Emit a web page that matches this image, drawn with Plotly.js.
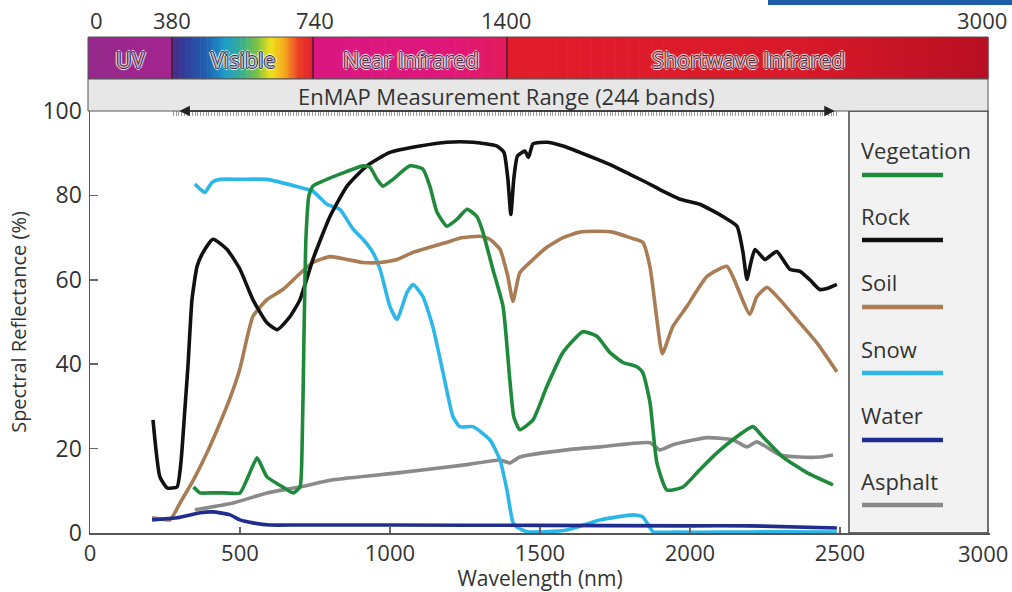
<!DOCTYPE html>
<html><head><meta charset="utf-8">
<script src="https://cdn.plot.ly/plotly-3.0.1.min.js"></script>
<style>html,body{margin:0;padding:0;background:#fff}</style>
</head><body><div id="chart" style="width:1012px;height:592px"></div>
<script>
// ---------- DATA ----------
const seriesNames = ["Vegetation", "Rock", "Soil", "Snow", "Water", "Asphalt"];

const vegetationX = [345, 367, 400, 450, 500, 527, 557, 590, 643, 677, 700, 707, 713, 720, 730, 743, 767, 857, 910, 933, 957, 977, 1010, 1067, 1110, 1133, 1157, 1190, 1223, 1257, 1290, 1310, 1343, 1377, 1400, 1413, 1433, 1477, 1523, 1577, 1643, 1690, 1733, 1777, 1823, 1843, 1867, 1890, 1923, 1977, 2033, 2090, 2143, 2210, 2243, 2310, 2390, 2477];
const vegetationY = [10.9, 9.5, 9.5, 9.5, 9.5, 13.3, 17.8, 13.3, 10.9, 9.5, 10.9, 20, 45, 70, 80, 82.2, 83.1, 85.7, 87, 86.7, 83.8, 82.2, 83.8, 87, 86.2, 82.2, 76, 72.7, 74.3, 76.7, 75, 71.3, 62.5, 53.7, 36, 27.5, 24.5, 26.8, 34.7, 42.8, 47.7, 46.6, 42.8, 40.4, 39.4, 38, 30.9, 16.6, 10.2, 10.9, 15, 19, 22.1, 25.2, 22.8, 18, 14.3, 11.4];

const rockX = [210, 233, 257, 290, 303, 315, 327, 340, 357, 377, 410, 457, 500, 543, 590, 625, 667, 700, 743, 800, 857, 923, 1000, 1100, 1190, 1277, 1357, 1380, 1393, 1403, 1413, 1425, 1450, 1462, 1477, 1523, 1577, 1633, 1690, 1743, 1800, 1857, 1910, 1967, 2033, 2110, 2157, 2177, 2190, 2203, 2217, 2250, 2270, 2290, 2333, 2367, 2400, 2433, 2460, 2490];
const rockY = [26.8, 13.3, 10.7, 10.9, 16.6, 28, 40, 55.3, 63.2, 66.5, 69.6, 67.2, 62.5, 55.3, 49.8, 48.2, 51.3, 55.3, 64.8, 75, 82.2, 87, 90.2, 91.7, 92.6, 92.6, 91.7, 90.2, 84, 75.5, 84, 89.3, 90.5, 89, 92.2, 92.6, 91.7, 90.2, 88.6, 87, 85, 83, 81, 79.1, 77.9, 75, 72.7, 66.5, 60.1, 64, 67.2, 64.8, 65.8, 66.7, 62.5, 62, 60, 57.7, 58, 58.9];

const soilX = [207, 240, 267, 300, 345, 390, 433, 467, 500, 543, 590, 643, 700, 743, 800, 857, 910, 967, 1023, 1077, 1133, 1190, 1243, 1300, 1333, 1367, 1393, 1410, 1433, 1477, 1523, 1577, 1633, 1690, 1743, 1800, 1843, 1867, 1890, 1908, 1943, 1990, 2057, 2123, 2143, 2200, 2223, 2257, 2300, 2357, 2423, 2490];
const soilY = [3.6, 3.3, 3.1, 7.1, 12.6, 19, 26, 32, 39, 51.3, 55.3, 57.7, 61.5, 64.1, 65.5, 64.8, 64.1, 64.1, 64.8, 66.5, 67.7, 68.9, 70, 70.3, 69.6, 67.2, 60.8, 54.9, 61.7, 64.8, 67.7, 70, 71.3, 71.5, 71.3, 70, 68.9, 63, 50.6, 42.5, 48.9, 53.7, 60.8, 63.2, 60.8, 51.8, 56, 58.2, 55.3, 50.6, 45.1, 38.2];

const snowX = [350, 367, 383, 407, 433, 500, 590, 700, 743, 790, 833, 877, 910, 943, 967, 1000, 1023, 1057, 1077, 1110, 1143, 1177, 1210, 1233, 1277, 1333, 1367, 1390, 1410, 1423, 1457, 1520, 1590, 1700, 1810, 1843, 1865, 1877, 1950, 2100, 2300, 2490];
const snowY = [82.7, 81.5, 80.7, 83.1, 83.8, 83.8, 83.8, 81.9, 81, 77.9, 76.7, 72, 69.6, 66.5, 62.5, 53.7, 50.6, 57, 58.9, 56, 48.9, 38, 27.6, 25.2, 25.2, 22.1, 17.3, 10.2, 2.5, 1.4, 0.3, 0.3, 0.7, 3.1, 4.3, 3.8, 1.5, 0.3, 0.2, 0.2, 0.3, 0.2];

const waterX = [207, 290, 367, 410, 467, 500, 543, 600, 700, 1000, 1500, 2000, 2200, 2490];
const waterY = [3.1, 3.6, 4.8, 5.0, 4.3, 3.1, 2.4, 1.9, 1.9, 1.9, 1.8, 1.7, 1.7, 1.2];

const asphaltX = [350, 477, 590, 700, 810, 1033, 1257, 1367, 1400, 1433, 1590, 1700, 1867, 1900, 1943, 2057, 2143, 2190, 2223, 2300, 2367, 2433, 2477];
const asphaltY = [5.5, 7.1, 9.5, 10.9, 12.6, 14.3, 16.2, 17.3, 16.6, 18, 19.7, 20.4, 21.4, 19.7, 20.9, 22.6, 22.1, 20.4, 21.6, 18.5, 18, 18, 18.5];

const xTickVals = [0, 500, 1000, 1500, 2000, 2500, 3000];
const xTickText = ["0", "500", "1000", "1500", "2000", "2500", "3000"];
const yTickVals = [0, 20, 40, 60, 80, 100];
const topTickLabels = ["0", "380", "740", "1400", "3000"];
const bandLabels = ["UV", "Visible", "Near Infrared", "Shortwave Infrared"];
const enmapLabel = "EnMAP Measurement Range (244 bands)";
const enmapBands = 244;

// ---------- STYLE / LAYOUT HELPERS ----------
const colors = {Vegetation: "#1f8a3c", Rock: "#111111", Soil: "#a97c54", Snow: "#2db6e8", Water: "#1f2e8e", Asphalt: "#8a8a8a"};
const FONT = "Open Sans, Noto Sans, sans-serif";
const TXT = "#333333";
const PL = 90, PR = 990, PT = 111, PB = 533;
const pxX = p => (p - PL) / (PR - PL);
const pxY = p => (PB - p) / (PB - PT);

const seriesData = {
  Vegetation: [vegetationX, vegetationY], Rock: [rockX, rockY], Soil: [soilX, soilY],
  Snow: [snowX, snowY], Water: [waterX, waterY], Asphalt: [asphaltX, asphaltY]
};
const drawOrder = ["Asphalt", "Snow", "Soil", "Rock", "Water", "Vegetation"];
const traces = drawOrder.map(n => ({
  type: "scatter", mode: "lines", name: n,
  x: seriesData[n][0], y: seriesData[n][1],
  line: {color: colors[n], width: 3.6, shape: "spline", smoothing: 0.5},
  showlegend: false, hoverinfo: "skip"
}));
traces.push({type: "scatter", x: [], y: [], xaxis: "x2", yaxis: "y", showlegend: false});

const shapes = [];
const annotations = [];

function hex2rgb(h){h=h.replace('#','');return [0,2,4].map(i=>parseInt(h.substr(i,2),16));}
function lerpColor(stops, t){
  for (let i = 0; i < stops.length - 1; i++) {
    const [t0, c0] = stops[i], [t1, c1] = stops[i+1];
    if (t >= t0 && t <= t1) {
      const f = (t - t0) / (t1 - t0 || 1);
      const a = hex2rgb(c0), b = hex2rgb(c1);
      return `rgb(${a.map((v,k)=>Math.round(v+(b[k]-v)*f)).join(',')})`;
    }
  }
  return stops[stops.length-1][1];
}
function gradientBand(px0, px1, stops, n){
  const w = (px1 - px0) / n;
  for (let i = 0; i < n; i++) {
    shapes.push({type: "rect", xref: "paper", yref: "paper",
      x0: pxX(px0 + i*w), x1: pxX(px0 + (i+1)*w + 0.6), y0: pxY(79), y1: pxY(37),
      fillcolor: lerpColor(stops, (i+0.5)/n), line: {width: 0}, layer: "above"});
  }
}
// spectrum band
gradientBand(88, 172, [[0, "#962a8c"], [1, "#a3238f"]], 6);
gradientBand(172, 313, [[0, "#4b2a84"], [0.1, "#2f3f9c"], [0.25, "#1f63b2"], [0.38, "#1e9ccc"], [0.5, "#3bb08a"], [0.6, "#79c043"], [0.7, "#f0e21c"], [0.8, "#f5a61e"], [0.9, "#ec3b26"], [1, "#e51f2c"]], 60);
gradientBand(313, 507, [[0, "#db1682"], [0.7, "#e0177a"], [1, "#e31b5a"]], 30);
gradientBand(507, 988, [[0, "#e21c2b"], [0.6, "#d91a2a"], [1, "#b80f22"]], 40);
shapes.push({type: "rect", xref: "paper", yref: "paper", x0: pxX(88), x1: pxX(988), y0: pxY(79), y1: pxY(37), line: {color: "#555", width: 1}, layer: "above"});
[172, 313, 507].forEach(p => shapes.push({type: "line", xref: "paper", yref: "paper", x0: pxX(p), x1: pxX(p), y0: pxY(79), y1: pxY(37), line: {color: "#4a1838", width: 1.5}, layer: "above"}));
// grey EnMAP band
shapes.push({type: "rect", xref: "paper", yref: "paper", x0: pxX(88), x1: pxX(988), y0: pxY(111), y1: pxY(79), fillcolor: "#e7e7e7", line: {color: "#555", width: 1}, layer: "above"});
// legend box
shapes.push({type: "rect", xref: "paper", yref: "paper", x0: pxX(849), x1: pxX(988), y0: 0, y1: 1, fillcolor: "#f2f2f2", line: {color: "#444", width: 1.5}, layer: "below"});
// blue caption strip (top right)
shapes.push({type: "rect", xref: "paper", yref: "paper", x0: pxX(768), x1: pxX(1015), y0: pxY(5), y1: pxY(-2), fillcolor: "#1d5ca8", line: {width: 0}, layer: "above"});

// top tick labels
const topTickPx = [96, 172, 315, 506, 982];
topTickLabels.forEach((t, i) => annotations.push({xref: "paper", yref: "paper", x: pxX(topTickPx[i]), y: pxY(20), text: t, showarrow: false, xanchor: "center", yanchor: "middle", font: {family: FONT, size: 22, color: TXT}}));

// last bottom tick label, kept inside the page
annotations.push({xref: "paper", yref: "paper", x: pxX(1010), y: pxY(553), text: xTickText[xTickText.length - 1], showarrow: false, xanchor: "right", yanchor: "middle", font: {family: FONT, size: 22, color: TXT}});

// band labels
const bandLabelPx = [130, 243, 411, 748];
const bandTextColors = ["#c79ac0", "#a9c2d8", "#f0a6c8", "#f0a0a6"];
const outline = "1px 0 0 #3a2a35, -1px 0 0 #3a2a35, 0 1px 0 #3a2a35, 0 -1px 0 #3a2a35, 2px 0 1px #fff, -2px 0 1px #fff, 0 2px 1px #fff, 0 -2px 1px #fff";
bandLabels.forEach((t, i) => annotations.push({xref: "paper", yref: "paper", x: pxX(bandLabelPx[i]), y: pxY(59), text: t, showarrow: false, xanchor: "center", yanchor: "middle", font: {family: FONT, size: 21.5, color: bandTextColors[i], shadow: outline}}));

// EnMAP label & arrow
annotations.push({xref: "paper", yref: "paper", x: pxX(506), y: pxY(96), text: enmapLabel, showarrow: false, xanchor: "center", yanchor: "middle", font: {family: FONT, size: 22, color: TXT}});
annotations.push({xref: "x", yref: "paper", x: 2483, y: 1, axref: "x", ayref: "paper", ax: 293, ay: 1, text: "", showarrow: true, arrowhead: 2, startarrowhead: 2, arrowside: "end+start", arrowsize: 1.4, startarrowsize: 1.4, arrowwidth: 1.5, arrowcolor: "#222"});

// legend entries
const legTextPy = [150, 216, 282, 349, 415, 481];
const legLinePy = [175, 240, 307, 373, 440, 505];
seriesNames.forEach((n, i) => {
  annotations.push({xref: "paper", yref: "paper", x: pxX(859), y: pxY(legTextPy[i]), text: n, showarrow: false, xanchor: "left", yanchor: "middle", font: {family: FONT, size: 22, color: TXT}});
  shapes.push({type: "line", xref: "paper", yref: "paper", x0: pxX(862), x1: pxX(943), y0: pxY(legLinePy[i]), y1: pxY(legLinePy[i]), line: {color: colors[n], width: 4.5}});
});

const layout = {
  width: 1012, height: 592,
  margin: {l: PL, r: 1012 - PR, t: PT, b: 592 - PB},
  paper_bgcolor: "#ffffff", plot_bgcolor: "rgba(0,0,0,0)",
  font: {family: FONT, color: TXT},
  showlegend: false,
  xaxis: {range: [0, 3000.5], tickvals: xTickVals, ticktext: xTickText.map((t, i) => i === xTickText.length - 1 ? "" : t),
    ticks: "inside", ticklen: 6, tickwidth: 1.5, tickcolor: "#666",
    showline: true, linecolor: "#555", linewidth: 1.5, showgrid: false, zeroline: false,
    tickfont: {family: FONT, size: 22, color: TXT},
    title: {text: "Wavelength (nm)", font: {family: FONT, size: 21, color: TXT}, standoff: 4}},
  xaxis2: {anchor: "y", side: "top", domain: [pxX(172), pxX(838)], range: [0.5, enmapBands + 0.5], tick0: 1, dtick: 1,
    ticks: "inside", ticklen: 5, tickwidth: 1, tickcolor: "#999", showticklabels: false, showline: false, showgrid: false, zeroline: false},
  yaxis: {range: [0, 100], tickvals: yTickVals, ticks: "inside", ticklen: 8, tickwidth: 1.5, tickcolor: "#666",
    showline: true, linecolor: "#555", linewidth: 1.5, showgrid: false, zeroline: false,
    tickfont: {family: FONT, size: 23, color: TXT}, ticklabelstandoff: 2,
    title: {text: "Spectral Reflectance (%)", font: {family: FONT, size: 20, color: TXT}, standoff: 10}},
  shapes: shapes,
  annotations: annotations
};

Plotly.newPlot("chart", traces, layout, {displayModeBar: false, staticPlot: true});
</script>
</body></html>
